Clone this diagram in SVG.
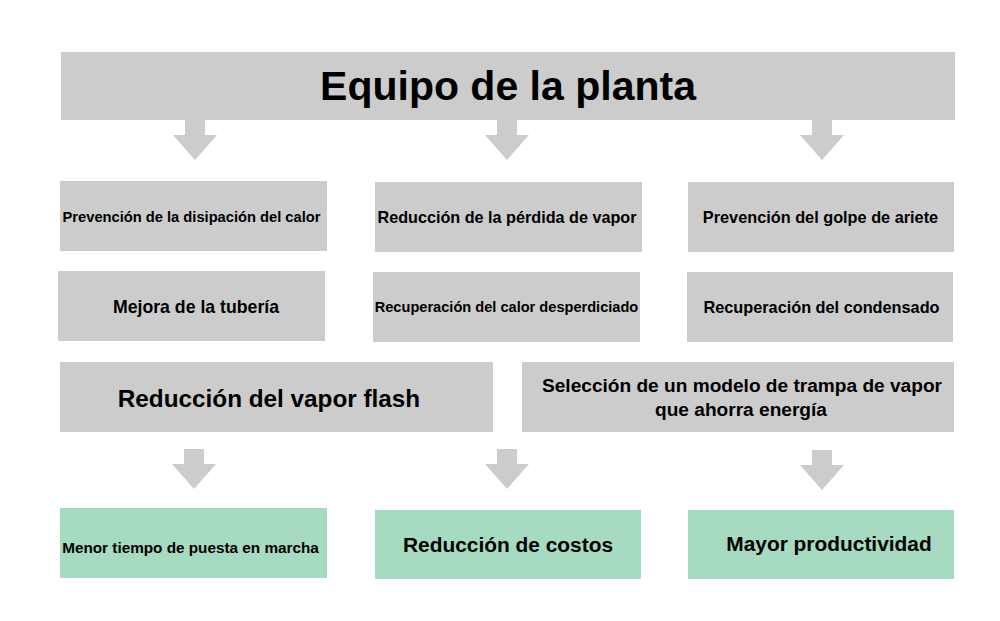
<svg xmlns="http://www.w3.org/2000/svg" xmlns:xlink="http://www.w3.org/1999/xlink" width="1000" height="621" viewBox="0 0 1000 621">
<style>
.g{fill:#cccccc}
.m{fill:#a6dbc2}
text{font-family:"Liberation Sans",Arial,Helvetica,sans-serif;font-weight:bold;fill:#000;text-anchor:middle}
.arr{fill:#cccccc}
</style>
<defs>
<path id="ar" d="M-10,0 H10 V15 H22 L0,40 L-22,15 H-10 Z"/>
</defs>
<rect width="1000" height="621" fill="#fff"/>
<g id="connectors" class="arr">
<use xlink:href="#ar" href="#ar" transform="translate(195,120)"/>
<use xlink:href="#ar" href="#ar" transform="translate(507,120)"/>
<use xlink:href="#ar" href="#ar" transform="translate(822,120)"/>
<use xlink:href="#ar" href="#ar" transform="translate(194,449)"/>
<use xlink:href="#ar" href="#ar" transform="translate(507,449)"/>
<use xlink:href="#ar" href="#ar" transform="translate(822,450)"/>
</g>
<g id="n_title"><rect class="g" x="61" y="52" width="894" height="68"/><text x="508" y="100" font-size="41">Equipo de la planta</text></g>
<g id="n_r1a"><rect class="g" x="60" y="181" width="267" height="70"/><text x="191.5" y="222" font-size="14.7">Prevención de la disipación del calor</text></g>
<g id="n_r1b"><rect class="g" x="375" y="182" width="267" height="70"/><text x="507" y="222.5" font-size="16.2">Reducción de la pérdida de vapor</text></g>
<g id="n_r1c"><rect class="g" x="688" y="182" width="266" height="70"/><text x="820.5" y="222.5" font-size="16.3">Prevención del golpe de ariete</text></g>
<g id="n_r2a"><rect class="g" x="58" y="271" width="267" height="70"/><text x="196" y="312.5" font-size="17.7">Mejora de la tubería</text></g>
<g id="n_r2b"><rect class="g" x="373" y="272" width="267" height="70"/><text x="506.5" y="312" font-size="14.6">Recuperación del calor desperdiciado</text></g>
<g id="n_r2c"><rect class="g" x="687" y="272" width="266" height="70"/><text x="821.5" y="312.5" font-size="16.3">Recuperación del condensado</text></g>
<g id="n_r3a"><rect class="g" x="60" y="362" width="433" height="70"/><text x="269" y="406.5" font-size="24.3">Reducción del vapor flash</text></g>
<g id="n_r3b"><rect class="g" x="522" y="362" width="432" height="70"/><text x="742" y="391.5" font-size="19.1">Selección de un modelo de trampa de vapor</text><text x="741" y="416" font-size="19.1">que ahorra energía</text></g>
<g id="n_b1"><rect class="m" x="60" y="508" width="267" height="70"/><text x="190.5" y="553" font-size="15.3">Menor tiempo de puesta en marcha</text></g>
<g id="n_b2"><rect class="m" x="375" y="510" width="266" height="69"/><text x="508" y="552" font-size="20.9">Reducción de costos</text></g>
<g id="n_b3"><rect class="m" x="688" y="510" width="266" height="69"/><text x="829" y="550.5" font-size="20.9">Mayor productividad</text></g>
</svg>
